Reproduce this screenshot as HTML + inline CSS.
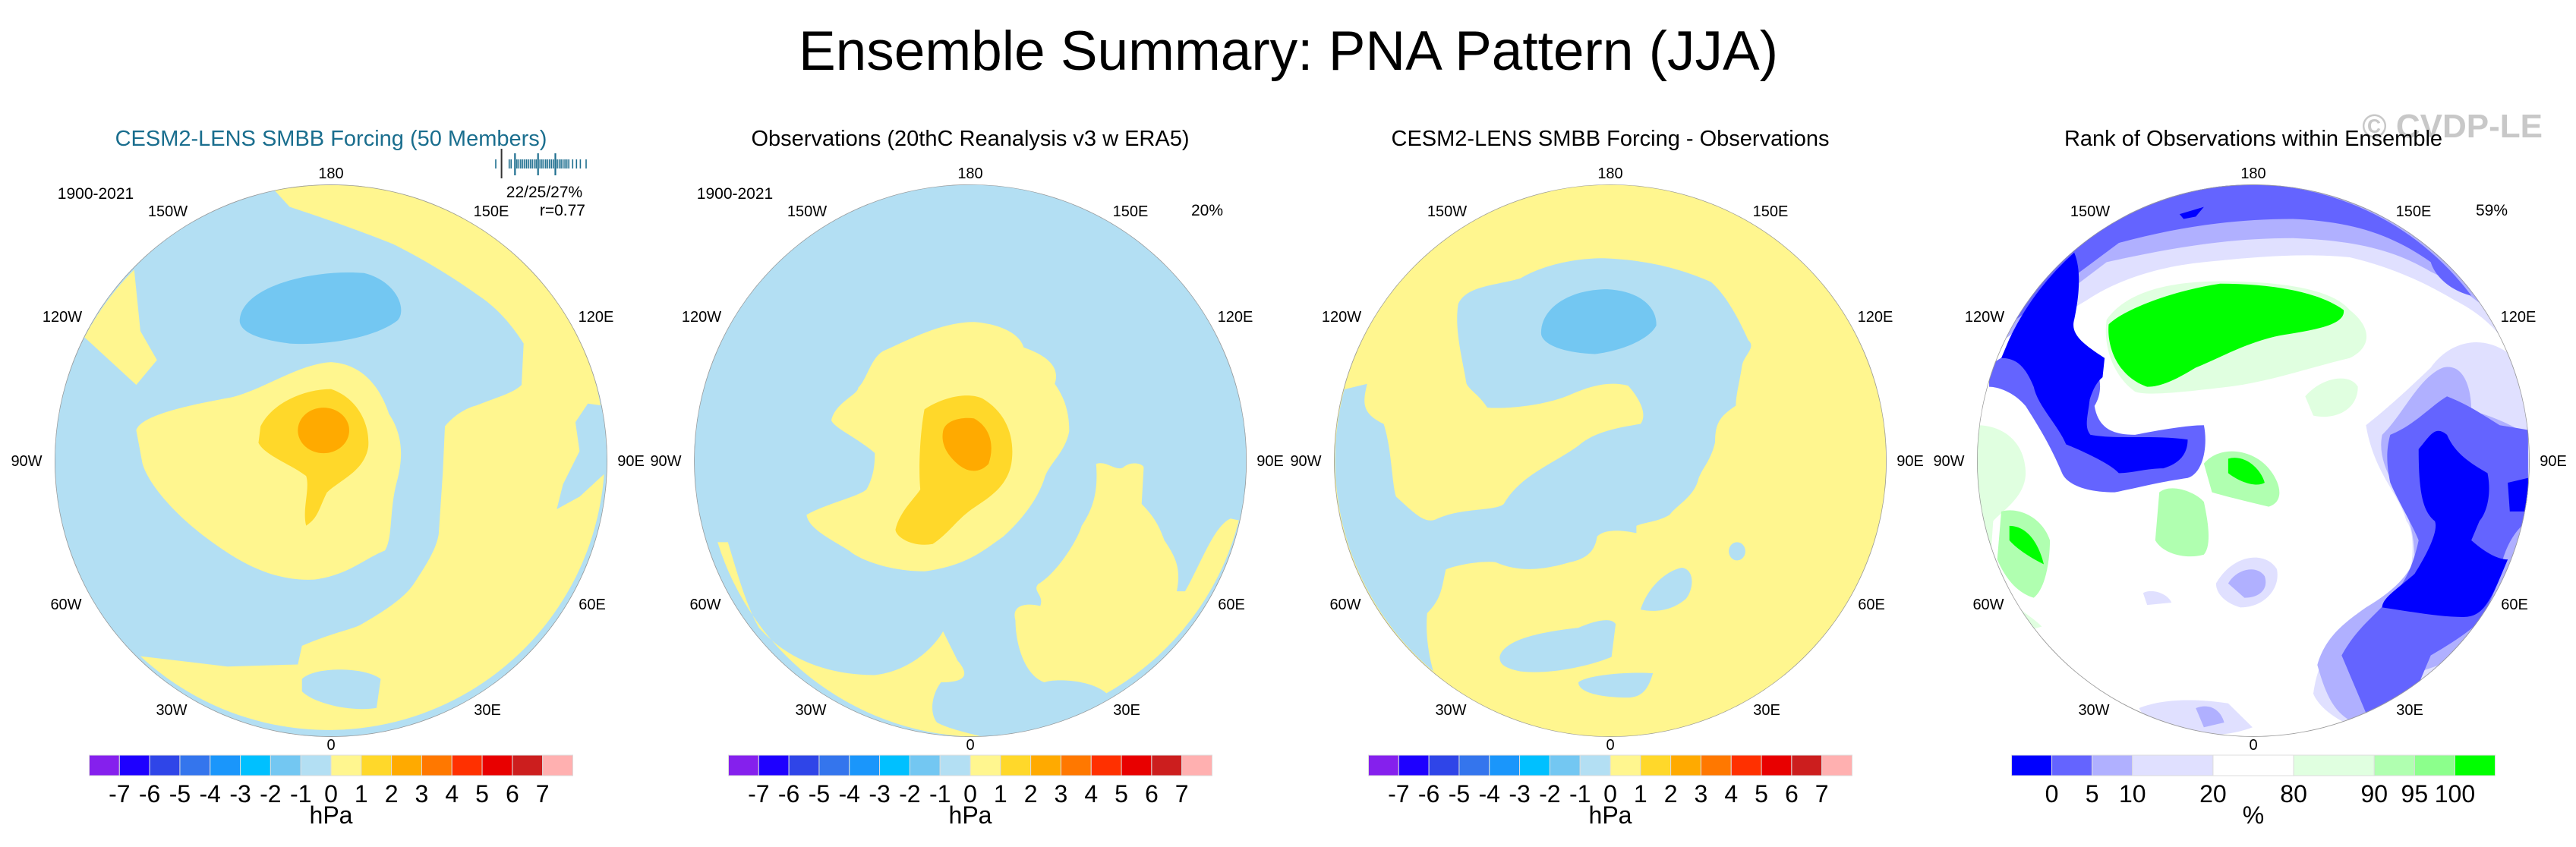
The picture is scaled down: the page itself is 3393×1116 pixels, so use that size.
<!DOCTYPE html>
<html><head><meta charset="utf-8">
<style>
html,body{margin:0;padding:0;background:#fff;}
svg{display:block;font-family:"Liberation Sans",Arial,sans-serif;}
</style></head>
<body>
<svg id="fig" width="3393" height="1116" viewBox="0 0 3393 1116" xmlns="http://www.w3.org/2000/svg">
<rect width="3393" height="1116" fill="#fff"/>
<text x="1697" y="92" font-size="73" text-anchor="middle" fill="#000">Ensemble Summary: PNA Pattern (JJA)</text>
<text x="3349" y="181" font-size="44" font-weight="bold" text-anchor="end" fill="#c8c8c8">© CVDP-LE</text>

<defs>
<clipPath id="c1"><ellipse cx="800" cy="873" rx="667" ry="667"/></clipPath>
<clipPath id="c2"><ellipse cx="771" cy="781" rx="668" ry="759"/></clipPath>
<clipPath id="c3"><ellipse cx="777" cy="781" rx="667" ry="759"/></clipPath>
<clipPath id="c4"><ellipse cx="762" cy="754" rx="682" ry="576"/></clipPath>
</defs>

<!-- Panel 1 -->
<g>
<g transform="matrix(0.5457 0 0 0.5457 -0.6 130.6)" clip-path="url(#c1)">
<ellipse cx="800" cy="873" rx="667" ry="667" fill="#b3dff3"/>
<path fill="#fff68f" d="M650,205 A667,667 0 1 1 340,1345 L550,1370 L720,1365 L730,1320 C800,1290 850,1280 870,1270 C940,1230 980,1200 1000,1170 C1040,1110 1055,1080 1060,1050 L1070,900 L1075,790 C1100,760 1130,745 1150,740 C1200,720 1240,710 1260,690 L1265,590 C1220,520 1180,490 1150,470 C1080,420 1010,380 950,350 C850,310 760,280 700,260 Z"/>
<path fill="#b3dff3" d="M730,1400 C760,1370 880,1370 920,1400 L910,1470 C850,1480 760,1460 730,1430 Z"/>
<path fill="#b3dff3" d="M1420,735 L1455,740 L1465,900 L1400,960 L1345,990 L1360,930 L1400,850 L1390,780 Z"/>
<path fill="#fff68f" d="M325,412 L340,560 L380,630 L330,690 L205,575 A667,667 0 0 1 325,412 Z"/>
<path fill="#fff68f" d="M330,800 C340,760 480,735 560,720 C640,700 720,640 800,635 C880,640 920,700 940,760 C980,820 970,880 960,920 C940,990 950,1060 930,1090 C880,1110 840,1150 760,1160 C660,1165 580,1120 500,1060 C420,1000 360,930 345,880 Z"/>
<path fill="#ffd82a" d="M630,790 C660,730 740,700 800,700 C860,720 895,780 890,840 C880,900 820,920 790,950 C770,990 770,1010 740,1030 C730,990 750,940 740,910 C700,880 640,860 625,830 Z"/>
<ellipse cx="782" cy="800" rx="62" ry="55" fill="#ffaa00"/>
<path fill="#73c7f2" d="M580,530 C590,450 760,410 880,420 C960,440 985,510 960,535 C900,580 780,595 700,590 C620,580 575,560 580,530 Z"/>
<ellipse cx="800" cy="873" rx="667" ry="667" fill="none" stroke="#999" stroke-width="3"/>
</g>
</g>

<!-- Panel 2 -->
<g>
<g transform="matrix(0.5449 0 0 0.4796 858 232.4)" clip-path="url(#c2)">
<ellipse cx="771" cy="781" rx="668" ry="759" fill="#b3dff3"/>
<path fill="#fff68f" d="M435,670 C445,620 500,600 500,580 C520,560 530,500 560,480 C620,450 700,400 780,400 C840,405 890,430 900,470 C950,490 990,520 975,570 C1000,610 1010,650 1010,700 C1000,760 960,790 950,830 C930,900 880,960 850,990 C800,1030 760,1070 660,1085 C570,1085 500,1050 480,1030 C440,1000 380,970 375,930 C420,900 500,880 520,860 C540,820 540,780 540,760 C500,720 440,690 435,670 Z"/>
<path fill="#ffd82a" d="M660,640 C700,610 760,590 800,610 C860,650 880,720 870,790 C860,850 820,880 780,910 C740,940 720,980 680,1010 C630,1020 590,990 590,970 C600,920 640,880 650,860 C645,800 650,700 660,640 Z"/>
<path fill="#ffaa00" d="M705,700 C710,670 750,660 780,665 C820,690 830,740 815,790 C790,820 760,810 740,790 C710,760 700,730 705,700 Z"/>
<path fill="#fff68f" d="M1075,790 C1100,780 1120,810 1140,800 C1160,780 1190,790 1190,800 L1185,900 C1220,940 1230,970 1240,1000 C1270,1050 1280,1080 1270,1140 L1290,1140 C1330,1060 1360,960 1400,940 L1420,945 A668,759 0 0 1 1100,1420 C1060,1380 970,1380 950,1390 C900,1370 880,1280 880,1220 C870,1180 900,1170 940,1180 C950,1150 920,1140 935,1120 C980,1090 1030,1000 1040,960 C1070,910 1080,860 1075,790 Z"/>
<path fill="#fff68f" d="M160,1005 L185,1005 C210,1100 230,1180 260,1240 C330,1330 430,1370 540,1370 C620,1360 680,1300 705,1250 L740,1330 C770,1370 760,1390 700,1390 C680,1420 670,1470 690,1500 C720,1520 790,1535 800,1540 A668,759 0 0 1 160,1005 Z"/>
<ellipse cx="771" cy="781" rx="668" ry="759" fill="none" stroke="#999" stroke-width="3"/>
</g>
</g>

<!-- Panel 3 -->
<g>
<g transform="matrix(0.5457 0 0 0.4796 1697 232.4)" clip-path="url(#c3)">
<ellipse cx="777" cy="781" rx="667" ry="759" fill="#fff68f"/>
<path fill="#b3dff3" d="M135,585 L190,570 C180,620 175,650 230,680 C250,750 250,850 260,880 C300,920 330,960 360,940 C420,910 500,920 520,900 C560,820 640,790 700,740 C740,700 800,690 850,680 C870,650 840,600 820,575 C770,560 720,580 680,600 C620,630 520,640 480,635 C460,600 440,590 430,570 C420,500 400,420 410,350 C430,300 500,300 560,280 C620,240 700,225 760,225 C880,230 960,260 1020,290 C1060,330 1090,400 1110,450 C1130,470 1100,490 1095,520 C1090,560 1080,600 1080,630 C1040,660 1030,680 1030,730 C1020,780 1000,800 990,830 C980,880 940,900 920,930 C890,950 860,950 840,960 L840,980 C800,970 760,970 745,990 C740,1030 720,1050 680,1060 C620,1080 560,1090 500,1060 C460,1055 400,1070 380,1080 C370,1130 370,1160 335,1200 C330,1260 340,1320 350,1360 A667,759 0 0 1 135,585 Z"/>
<path fill="#73c7f2" d="M610,430 C610,360 680,310 770,310 C850,315 890,360 888,410 C870,450 800,480 740,488 C660,485 610,460 610,430 Z"/>
<path fill="#b3dff3" d="M510,1320 C520,1270 620,1250 700,1240 C740,1220 780,1210 790,1230 L780,1320 C740,1340 640,1370 560,1360 C520,1350 510,1340 510,1320 Z"/>
<path fill="#b3dff3" d="M700,1390 C720,1370 820,1360 880,1365 C870,1400 860,1430 820,1432 C760,1432 700,1420 700,1390 Z"/>
<path fill="#b3dff3" d="M850,1190 C870,1120 920,1080 950,1075 C980,1080 980,1130 960,1160 C930,1190 890,1200 850,1190 Z"/>
<ellipse cx="1083" cy="1030" rx="20" ry="25" fill="#b3dff3"/>
<ellipse cx="777" cy="781" rx="667" ry="759" fill="none" stroke="#999" stroke-width="3"/>
</g>
</g>

<!-- Panel 4 -->
<g>
<g transform="matrix(0.5337 0 0 0.6319 2561.3 130.5)" clip-path="url(#c4)">
<ellipse cx="762" cy="754" rx="682" ry="576" fill="#fff"/>
<path fill="#e0e0ff" d="M150,520 A682,576 0 0 1 1440,600 C1400,500 1330,450 1260,420 C1180,380 1100,350 1000,330 C880,320 760,330 640,340 C520,350 420,380 350,420 Z"/>
<path fill="#b0b0ff" d="M150,500 A682,576 0 0 1 1380,470 C1320,420 1250,380 1200,360 C1100,310 1000,295 860,290 C700,290 560,310 400,340 Z"/>
<path fill="#6464ff" d="M160,470 A682,576 0 0 1 1300,410 C1250,400 1210,370 1200,340 C1100,280 1000,255 860,250 C700,250 560,270 430,300 Z"/>
<path fill="#0000ff" d="M580,240 L640,225 L620,245 L590,250 Z"/>
<path fill="#6464ff" d="M110,560 C150,520 250,510 320,520 C380,540 400,600 370,640 C380,690 420,700 470,700 C530,690 600,680 640,680 C650,720 640,780 600,790 C520,800 480,810 420,820 C340,820 300,800 290,780 C260,720 230,680 200,640 C170,610 130,600 110,600 Z"/>
<path fill="#0000ff" d="M160,500 A682,576 0 0 1 320,320 C340,360 330,420 320,460 C310,490 340,510 395,540 L390,580 C360,600 350,650 340,700 L300,720 C280,680 230,640 220,600 C200,560 180,540 140,540 Z"/>
<path fill="#0000ff" d="M240,590 C280,560 340,560 360,600 C360,650 340,680 360,700 C420,710 520,700 600,710 C600,740 580,760 540,770 C500,770 460,780 430,780 C410,760 330,730 300,720 C280,680 250,630 240,590 Z"/>
<path fill="#e0ffe0" d="M400,460 C450,400 560,380 680,380 C800,380 950,390 1000,440 C1060,480 1050,520 1000,540 C900,560 800,590 700,600 C600,610 500,620 470,610 C420,580 390,520 400,460 Z"/>
<path fill="#00ff00" d="M405,470 C440,440 560,400 680,385 C800,385 920,400 985,440 C990,470 920,480 850,490 C760,500 680,540 620,560 C580,580 540,600 500,600 C430,580 400,520 405,470 Z"/>
<path fill="#e0ffe0" d="M890,620 C930,580 1000,570 1020,600 C1020,650 960,670 910,660 Z"/>
<path fill="#e0ffe0" d="M80,680 C150,680 200,720 200,780 C200,830 140,860 120,880 L110,1000 C150,1050 220,1080 240,1100 L150,1120 L60,900 Z"/>
<path fill="#b0ffb0" d="M140,860 C180,850 240,870 260,920 C260,960 250,1020 220,1040 C180,1030 150,1000 130,960 Z"/>
<path fill="#00ff00" d="M160,890 C200,890 230,920 245,970 C220,960 180,940 160,920 Z"/>
<path fill="#b0ffb0" d="M530,820 C560,800 620,820 640,840 C650,880 660,930 640,950 C600,960 540,950 520,920 Z"/>
<path fill="#b0ffb0" d="M640,760 C680,720 760,730 800,770 C830,800 840,840 800,850 C750,840 700,830 660,820 Z"/>
<path fill="#00ff00" d="M700,750 C740,740 780,770 790,800 C770,810 730,800 700,780 Z"/>
<path fill="#e0e0ff" d="M1040,680 C1100,640 1150,600 1200,560 C1250,500 1350,480 1430,560 A682,576 0 0 1 1050,1320 C1000,1310 930,1280 910,1240 C920,1180 940,1150 1000,1120 C1050,1080 1100,1060 1140,1020 C1160,960 1160,900 1140,880 C1120,820 1060,780 1040,680 Z"/>
<path fill="#b0b0ff" d="M1080,700 C1130,660 1170,580 1230,560 C1280,550 1300,600 1300,650 C1350,660 1400,680 1440,700 L1440,900 C1400,950 1380,1000 1390,1050 C1330,1100 1300,1140 1250,1170 C1200,1190 1120,1200 1100,1240 C1080,1260 1040,1280 1010,1300 C960,1280 940,1240 920,1180 C940,1120 990,1090 1040,1060 C1100,1030 1140,1000 1160,960 C1160,900 1140,860 1120,820 C1090,780 1070,740 1080,700 Z"/>
<path fill="#6464ff" d="M1100,700 C1160,680 1200,640 1240,620 C1300,640 1330,660 1370,680 L1440,690 L1440,880 C1400,900 1370,960 1370,1000 L1330,1080 C1300,1110 1240,1140 1200,1160 L1160,1240 C1120,1250 1090,1270 1040,1280 C1020,1240 1000,1200 980,1160 C1020,1100 1060,1080 1100,1040 C1140,1010 1160,960 1170,920 C1150,880 1120,840 1100,800 C1090,760 1090,730 1100,700 Z"/>
<path fill="#0000ff" d="M1170,730 C1200,700 1210,680 1240,700 C1260,740 1300,760 1340,780 C1350,820 1340,860 1320,880 L1300,920 C1340,950 1370,960 1390,960 L1370,1000 C1340,1060 1320,1080 1280,1080 C1220,1080 1160,1070 1080,1060 C1080,1040 1120,1020 1160,990 C1190,950 1220,900 1210,880 C1180,860 1170,820 1170,730 Z"/>
<path fill="#0000ff" d="M1390,800 L1440,790 L1440,860 L1395,860 Z"/>
<path fill="#e0e0ff" d="M480,1270 C540,1250 620,1250 700,1260 L760,1310 C700,1330 620,1330 560,1320 C520,1300 490,1290 480,1270 Z"/>
<path fill="#b0b0ff" d="M620,1270 C650,1260 680,1270 690,1300 L640,1310 Z"/>
<path fill="#e0e0ff" d="M670,1010 C710,950 790,940 820,980 C830,1020 790,1060 730,1060 C690,1050 670,1030 670,1010 Z"/>
<path fill="#b0b0ff" d="M700,1010 C720,980 770,970 790,995 C800,1020 780,1040 740,1040 Z"/>
<path fill="#e0e0ff" d="M490,1030 C510,1020 550,1030 560,1050 L500,1055 Z"/>
<ellipse cx="762" cy="754" rx="682" ry="576" fill="none" stroke="#999" stroke-width="3"/>
</g>
</g>

<g id="labels"></g>
<g id="colorbars"></g>
<g id="strip"></g>
</svg>

<script>
// Colorbar data
var hpaColors = ["#8520ed","#1e00ff","#2f45e8","#3475ed","#1a96fb","#00c0ff","#73c7f2","#b3dff3","#fff68f","#ffd82a","#ffaa00","#ff7800","#ff3000","#e80000","#cc1e1e","#ffb0b0"];
var hpaTicks = ["-7","-6","-5","-4","-3","-2","-1","0","1","2","3","4","5","6","7"];
var rankColors = ["#0000ff","#6464ff","#b0b0ff","#e0e0ff","#ffffff","#e0ffe0","#b0ffb0","#8cff8c","#00ff00"];
var rankWidths = [1,1,1,2,2,2,1,1,1];
var rankTicks = ["0","5","10","20","80","90","95","100"];
// Ensemble member rank positions (0..50) for strip
var memberVals = [0,7,8,10,11,12,13,14,15,16,17,18,19,20,21,22,23,24,25,26,27,28,29,30,31,32,33,34,35,36,37,38,40,42,44,47];
var memberTall = [10,22,31];
var obsMarker = 3;

var NS = "http://www.w3.org/2000/svg";
function mk(tag, attrs, parent) {
  var e = document.createElementNS(NS, tag);
  for (var k in attrs) e.setAttribute(k, attrs[k]);
  parent.appendChild(e);
  return e;
}
var centers = [436, 1278, 2121, 2968];
var CY = 607;
var lbl = document.getElementById('labels');
var lonNames = ["180","150W","120W","90W","60W","30W","0","30E","60E","90E","120E","150E"];
var lonOff = [[0,-379],[-215,-329],[-354,-190],[-401,0],[-349,189],[-210,328],[0,374],[206,328],[344,189],[395,0],[349,-190],[211,-329]];
var titles = ["CESM2-LENS SMBB Forcing (50 Members)","Observations (20thC Reanalysis v3 w ERA5)","CESM2-LENS SMBB Forcing - Observations","Rank of Observations within Ensemble"];
for (var p = 0; p < 4; p++) {
  var cx = centers[p];
  var t = mk('text', {x: cx, y: 192, 'font-size': 29, 'text-anchor': 'middle', fill: p === 0 ? '#1a6e8e' : '#000'}, lbl);
  
  
  t.textContent = titles[p];
  for (var i = 0; i < lonNames.length; i++) {
    var l = mk('text', {x: cx + lonOff[i][0], y: CY + lonOff[i][1] + 7, 'font-size': 20, 'text-anchor': 'middle', fill: '#000'}, lbl);
    
    
    l.textContent = lonNames[i];
  }
}
function addText(txt, x, y, size, anchor, name) {
  var e = mk('text', {x: x, y: y, 'font-size': size, 'text-anchor': anchor, fill: '#000'}, lbl);
  
  
  e.textContent = txt;
}
addText("1900-2021", 126, 262, 21, 'middle', 'period-label');
addText("22/25/27%", 717, 260, 21, 'middle', 'ensemble-percent');
addText("r=0.77", 771, 284, 21, 'end', 'pattern-correlation');
addText("1900-2021", 968, 262, 21, 'middle', 'period-label');
addText("20%", 1590, 284, 21, 'middle', 'obs-percent');
addText("59%", 3282, 284, 21, 'middle', 'rank-percent');

// Colorbars
var cb = document.getElementById('colorbars');
var cbY = 995, cbH = 27, cbW = 637;
for (var p = 0; p < 3; p++) {
  var x0 = centers[p] - cbW / 2, sw = cbW / hpaColors.length;
  for (var i = 0; i < hpaColors.length; i++) {
    var r = mk('rect', {x: x0 + i * sw, y: cbY, width: sw, height: cbH, fill: hpaColors[i], stroke: '#ddd', 'stroke-width': 1}, cb);
    
    
  }
  for (var i = 0; i < hpaTicks.length; i++) {
    var tt = mk('text', {x: x0 + (i + 1) * sw, y: cbY + 62, 'font-size': 32, 'text-anchor': 'middle', fill: '#000'}, cb);
    
    
    tt.textContent = hpaTicks[i];
  }
  var u = mk('text', {x: centers[p], y: cbY + 90, 'font-size': 32, 'text-anchor': 'middle', fill: '#000'}, cb);
  
  
  u.textContent = "hPa";
}
(function () {
  var tot = 0; rankWidths.forEach(function (w) { tot += w; });
  var x0 = centers[3] - cbW / 2, unit = cbW / tot, x = x0;
  for (var i = 0; i < rankColors.length; i++) {
    var r = mk('rect', {x: x, y: cbY, width: rankWidths[i] * unit, height: cbH, fill: rankColors[i], stroke: '#ddd', 'stroke-width': 1}, cb);
    
    
    x += rankWidths[i] * unit;
    if (i < rankTicks.length) {
      var tt = mk('text', {x: x, y: cbY + 62, 'font-size': 32, 'text-anchor': 'middle', fill: '#000'}, cb);
      
      
      tt.textContent = rankTicks[i];
    }
  }
  var u = mk('text', {x: centers[3], y: cbY + 90, 'font-size': 32, 'text-anchor': 'middle', fill: '#000'}, cb);
  
  
  u.textContent = "%";
})();

// Ensemble strip
var st = document.getElementById('strip');
var sx0 = 653, sx1 = 772;
function sx(v) { return sx0 + (sx1 - sx0) * v / 47; }
memberVals.forEach(function (v) {
  var ln = mk('line', {x1: sx(v), x2: sx(v), y1: 210, y2: 222, stroke: '#1f6f8f', 'stroke-width': 1.6}, st);
  
  
});
memberTall.forEach(function (v) {
  var ln = mk('line', {x1: sx(v), x2: sx(v), y1: 202, y2: 231, stroke: '#1f6f8f', 'stroke-width': 2.2}, st);
  
  
});
var ob = mk('line', {x1: sx(obsMarker), x2: sx(obsMarker), y1: 196, y2: 235, stroke: '#333', 'stroke-width': 2}, st);


</script>
</body></html>
